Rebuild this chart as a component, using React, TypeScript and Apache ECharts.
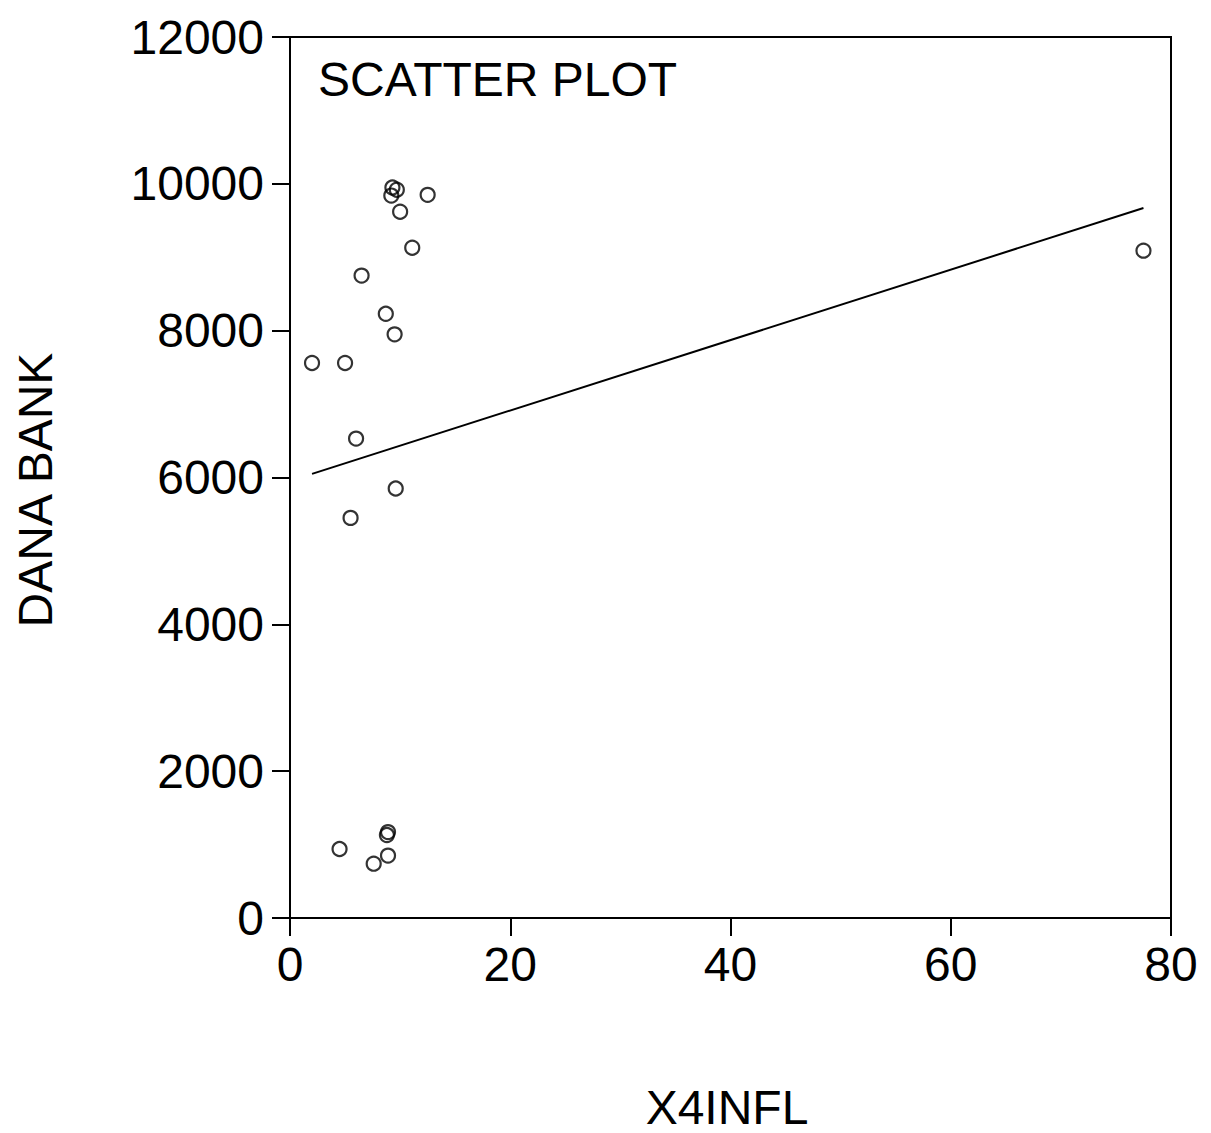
import React, { useEffect, useRef } from "react";
import * as echarts from "echarts";

const xValues = [2.0, 5.0, 6.0, 6.5, 5.5, 8.7, 9.5, 9.6, 9.3, 9.7, 9.2, 12.5, 10.0, 11.1, 77.5, 4.5, 7.6, 8.9, 8.9, 8.8];
const yValues = [7560, 7560, 6530, 8750, 5450, 8230, 7950, 5850, 9950, 9920, 9840, 9850, 9620, 9130, 9090, 940, 740, 850, 1170, 1130];
const fitX = [2.0, 77.5];
const fitY = [6050, 9670];
const xTicks = [0, 20, 40, 60, 80];
const yTicks = [0, 2000, 4000, 6000, 8000, 10000, 12000];

const FONT = "Liberation Sans, Arial, sans-serif";

export default function App() {
  const ref = useRef<HTMLDivElement>(null);
  useEffect(() => {
    if (!ref.current) return;
    const chart = echarts.init(ref.current, null, { renderer: "svg" });
    const points = xValues.map((x, i) => [x, yValues[i]]);
    const fit = fitX.map((x, i) => [x, fitY[i]]);
    chart.setOption({
      animation: false,
      backgroundColor: "#ffffff",
      grid: {
        left: 290,
        right: 40,
        top: 37,
        bottom: 215,
        show: true,
        borderColor: "#000",
        borderWidth: 2,
        backgroundColor: "transparent",
      },
      xAxis: {
        type: "value",
        min: xTicks[0],
        max: xTicks[xTicks.length - 1],
        interval: 20,
        axisLine: { show: true, lineStyle: { color: "#000", width: 2 } },
        axisTick: { show: true, length: 18, lineStyle: { color: "#000", width: 2 } },
        splitLine: { show: false },
        axisLabel: {
          color: "#000",
          fontSize: 48,
          fontFamily: FONT,
          margin: 22,
          formatter: (v: number) => String(v),
        },
      },
      yAxis: {
        type: "value",
        min: yTicks[0],
        max: yTicks[yTicks.length - 1],
        interval: 2000,
        axisLine: { show: true, lineStyle: { color: "#000", width: 2 } },
        axisTick: { show: true, length: 18, lineStyle: { color: "#000", width: 2 } },
        splitLine: { show: false },
        axisLabel: {
          color: "#000",
          fontSize: 48,
          fontFamily: FONT,
          margin: 26,
          formatter: (v: number) => String(v),
        },
      },
      graphic: [
        {
          type: "text",
          left: 318,
          top: 55,
          style: { text: "SCATTER PLOT", fontSize: 48, fontFamily: FONT, fill: "#000" },
        },
        {
          type: "text",
          x: 35,
          y: 490,
          rotation: Math.PI / 2,
          style: {
            text: "DANA BANK",
            fontSize: 48,
            fontFamily: FONT,
            fill: "#000",
            align: "center",
            verticalAlign: "middle",
          },
        },
        {
          type: "text",
          x: 727,
          y: 1107,
          style: {
            text: "X4INFL",
            fontSize: 48,
            fontFamily: FONT,
            fill: "#000",
            align: "center",
            verticalAlign: "middle",
          },
        },
      ],
      series: [
        {
          type: "line",
          data: fit,
          symbol: "none",
          lineStyle: { color: "#000", width: 2 },
          silent: true,
        },
        {
          type: "scatter",
          data: points,
          symbol: "circle",
          symbolSize: 14,
          itemStyle: { color: "rgba(0,0,0,0)", borderColor: "#000", borderWidth: 2.2 },
        },
      ],
    });
    return () => chart.dispose();
  }, []);
  return (
    <div
      ref={ref}
      style={{ position: "absolute", left: 0, top: 0, width: 1211, height: 1133, background: "#fff" }}
    />
  );
}
